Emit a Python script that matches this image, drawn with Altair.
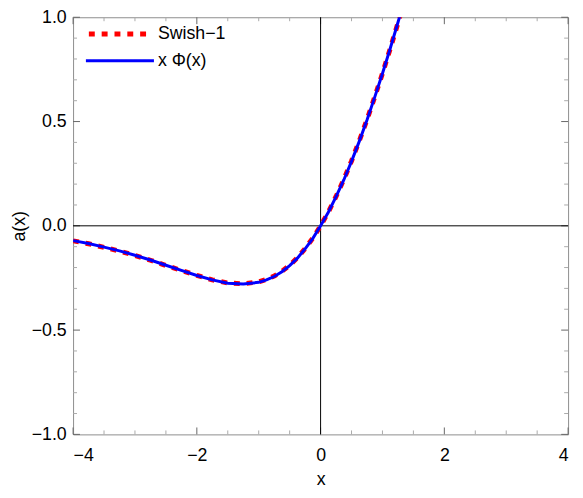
import altair as alt
import pandas as pd

# values
x_vals = [-4.0, -3.75, -3.5, -3.25, -3.0, -2.75, -2.5, -2.25, -2.0, -1.75, -1.5, -1.25,
          -1.0, -0.875, -0.75, -0.625, -0.5, -0.375, -0.25, -0.125, 0.0, 0.125, 0.25,
          0.375, 0.5, 0.625, 0.75, 0.875, 1.0, 1.125, 1.25, 1.3]
swish = [-0.072, -0.086, -0.103, -0.121, -0.142, -0.165, -0.190, -0.214, -0.238, -0.259,
         -0.274, -0.278, -0.269, -0.257, -0.241, -0.218, -0.189, -0.153, -0.109, -0.059,
         0.0, 0.066, 0.141, 0.222, 0.311, 0.407, 0.509, 0.618, 0.731, 0.849, 0.972, 1.022]
xphi = [-0.071, -0.085, -0.102, -0.120, -0.141, -0.164, -0.189, -0.214, -0.238, -0.259,
        -0.275, -0.279, -0.271, -0.259, -0.243, -0.220, -0.191, -0.155, -0.110, -0.060,
        0.0, 0.065, 0.140, 0.220, 0.309, 0.405, 0.507, 0.617, 0.730, 0.850, 0.975, 1.026]

series_names = ["Swish\u22121", "x \u03a6(x)"]
series_colors = ["#ff0000", "#0000ff"]
series_dash = [[6, 7], [1, 0]]
series_width = [5, 3]

x_label_values = [-4, -2, 0, 2, 4]
x_minor_ticks = [-3.5, -3.0, -2.5, -1.5, -1.0, -0.5, 0.5, 1.0, 1.5, 2.5, 3.0, 3.5]
x_major_ticks = [-4.0, -2.0, 0.0, 2.0, 4.0]
y_label_values = [-1.0, -0.5, 0.0, 0.5, 1.0]
y_minor_ticks = [-0.9, -0.8, -0.7, -0.6, -0.4, -0.3, -0.2, -0.1,
                 0.1, 0.2, 0.3, 0.4, 0.6, 0.7, 0.8, 0.9]
y_major_ticks = [-1.0, -0.5, 0.0, 0.5, 1.0]

W, H = 502, 423
FONT = "Liberation Sans"
FS = 18
MINOR_LEN, MAJOR_LEN = 4, 7
MINOR_COL, MAJOR_COL = "#aaaaaa", "#666666"

df_swish = pd.DataFrame({"x": x_vals, "y": swish})
df_xphi = pd.DataFrame({"x": x_vals, "y": xphi})

xs = alt.Scale(domain=[-4, 4], nice=False, zero=False)
ys = alt.Scale(domain=[-1, 1], nice=False, zero=False)


def x_ticks(values, length, color):
    d = pd.DataFrame({"t": values})
    bottom = alt.Chart(d).mark_rule(color=color, strokeWidth=1).encode(
        x=alt.X("t:Q", scale=xs, axis=None), y=alt.value(H), y2=alt.value(H - length))
    top = alt.Chart(d).mark_rule(color=color, strokeWidth=1).encode(
        x=alt.X("t:Q", scale=xs, axis=None), y=alt.value(0), y2=alt.value(length))
    return [bottom, top]


def y_ticks(values, length, color):
    d = pd.DataFrame({"t": values})
    left = alt.Chart(d).mark_rule(color=color, strokeWidth=1).encode(
        y=alt.Y("t:Q", scale=ys, axis=None), x=alt.value(0), x2=alt.value(length))
    right = alt.Chart(d).mark_rule(color=color, strokeWidth=1).encode(
        y=alt.Y("t:Q", scale=ys, axis=None), x=alt.value(W), x2=alt.value(W - length))
    return [left, right]


tick_layers = (x_ticks(x_minor_ticks, MINOR_LEN, MINOR_COL) + x_ticks(x_major_ticks, MAJOR_LEN, MAJOR_COL)
               + y_ticks(y_minor_ticks, MINOR_LEN, MINOR_COL) + y_ticks(y_major_ticks, MAJOR_LEN, MAJOR_COL))

zero_v = alt.Chart(pd.DataFrame({"z": [0]})).mark_rule(color="black", strokeWidth=1).encode(
    x=alt.X("z:Q", scale=xs, axis=None))
zero_h = alt.Chart(pd.DataFrame({"z": [0]})).mark_rule(color="black", strokeWidth=1).encode(
    y=alt.Y("z:Q", scale=ys, axis=None))

red = alt.Chart(df_swish).mark_line(
    clip=True, color=series_colors[0], strokeDash=series_dash[0], strokeWidth=series_width[0],
    strokeCap="butt").encode(
    x=alt.X("x:Q", scale=xs,
            axis=alt.Axis(orient="bottom", values=x_label_values, format="d", ticks=False, domain=False,
                          grid=False, labelFontSize=FS, labelFont=FONT, labelColor="black",
                          labelPadding=12, title="x", titleFontSize=FS, titleFont=FONT,
                          titleFontWeight="normal", titleColor="black", titleY=51,
                          titleBaseline="alphabetic")),
    y=alt.Y("y:Q", scale=ys,
            axis=alt.Axis(orient="left", values=y_label_values, format=".1f", ticks=False, domain=False,
                          grid=False, labelFontSize=FS, labelFont=FONT, labelColor="black",
                          labelPadding=7, title="a(x)", titleFontSize=FS, titleFont=FONT,
                          titleFontWeight="normal", titleColor="black", titleX=-54, titleY=H / 2,
                          titleBaseline="middle", titleAngle=-90)),
    order="x:Q",
)

blue = alt.Chart(df_xphi).mark_line(
    clip=True, color=series_colors[1], strokeWidth=series_width[1]).encode(
    x=alt.X("x:Q", scale=xs, axis=None),
    y=alt.Y("y:Q", scale=ys, axis=None),
    order="x:Q",
)

# legend (drawn inside the plot, top-left)
leg_rows = [17, 44]
leg_sym = [(16, 78), (13, 82)]
legend_layers = []
for i, name in enumerate(series_names):
    d = pd.DataFrame({"name": [name]})
    sym = alt.Chart(d).mark_rule(
        color=series_colors[i], strokeWidth=series_width[i], strokeDash=series_dash[i],
        strokeCap="butt").encode(
        x=alt.value(leg_sym[i][0]), x2=alt.value(leg_sym[i][1]), y=alt.value(leg_rows[i]))
    txt = alt.Chart(d).mark_text(
        align="left", baseline="middle", font=FONT, fontSize=FS, color="black").encode(
        x=alt.value(86), y=alt.value(leg_rows[i]), text="name:N")
    legend_layers += [sym, txt]

chart = alt.layer(*tick_layers, zero_v, zero_h, red, blue, *legend_layers).resolve_axis(
    x="independent", y="independent"
).properties(
    width=W, height=H,
    autosize=alt.AutoSizeParams(type="none"),
    padding={"left": 66, "top": 6, "right": 7, "bottom": 53},
).configure_view(stroke="#8c8c8c", strokeWidth=1)

chart.save("out.html", embed_options={"renderer": "svg", "actions": False})
